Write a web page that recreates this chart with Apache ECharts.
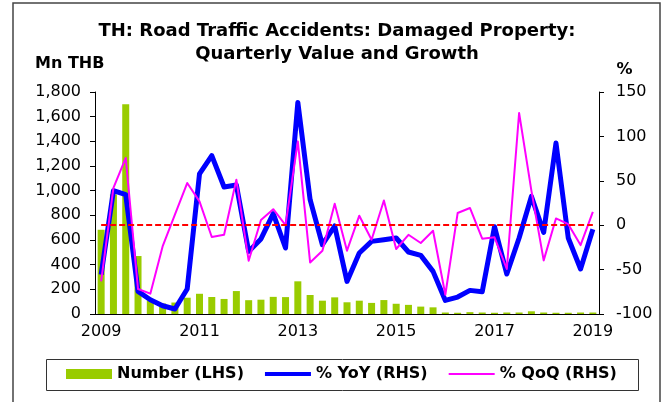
<!DOCTYPE html>
<html><head><meta charset="utf-8">
<script src="https://cdn.jsdelivr.net/npm/echarts@6/dist/echarts.min.js"></script>
<style>html,body{margin:0;padding:0;background:#fff}#c{width:671px;height:402px}</style>
</head><body><div id="c"></div>
<script>
// Quarterly categories 2009Q1 .. 2019Q1
const years = [2009,2010,2011,2012,2013,2014,2015,2016,2017,2018,2019];
const quarterNames = ['Q1','Q2','Q3','Q4'];
const categories = [];
years.forEach(y => quarterNames.forEach(q => { if (!(y === 2019 && q !== 'Q1')) categories.push(y + ' ' + q); }));

// Number (LHS), Mn THB
const numberLHS = [683, 970, 1700, 470, 110, 85, 93, 132, 164, 138, 122, 186, 112, 116, 139, 137,
  265, 154, 108, 135, 95, 108, 90, 113, 83, 74, 60, 54, 12, 10, 15, 12,
  10, 12, 12, 22, 12, 10, 10, 12, 12];
// % YoY (RHS)
const yoyRHS = [-55.7, 38.9, 34.3, -74.5, -83.9, -90.7, -94.4, -71.9, 57.7, 78.3, 43, 45.3, -29.5, -15.5, 13, -25.7,
  138.3, 28.7, -22, -0.9, -63.3, -31.3, -18.2, -16.3, -14.4, -30.2, -34, -52, -84.7, -80.9, -73.4, -74.9,
  -1.7, -55, -14.4, 32.4, -8.1, 92.6, -14.4, -49.3, -4.5];
// % QoQ (RHS)
const qoqRHS = [-63.3, 41.9, 75.7, -71.9, -77.1, -23.9, 11.8, 47.5, 26.8, -13.3, -10.8, 51.2, -40, 5.9, 18, 0,
  94.4, -41.9, -28.7, 24.2, -28.7, 10.7, -16.3, 27.9, -26.8, -10.8, -20, -6.2, -78.3, 13.7, 19.4, -15.2,
  -13.7, -49.3, 126.4, 38.9, -39.6, 7.6, 1.2, -22.4, 15];
const xTickLabels = ['2009','2011','2013','2015','2017','2019'];
const seriesNames = ['Number (LHS)', '% YoY (RHS)', '% QoQ (RHS)'];
const zeroRef = 0;

const FONT = '"DejaVu Sans", sans-serif';
// legend line icons: thin bands inside a 46x10 box
const thickLineIcon = 'path://M0 0H1V0.01H0Z M0 3H46V7H0Z M0 9.99H1V10H0Z';
const thinLineIcon = 'path://M0 0H1V0.01H0Z M0 4H46V6H0Z M0 9.99H1V10H0Z';

const chart = echarts.init(document.getElementById('c'), null, {renderer: 'canvas'});
chart.setOption({
  animation: false,
  backgroundColor: '#ffffff',
  grid: {left: 95, right: 72, top: 92, bottom: 88, containLabel: false},
  graphic: [
    {type: 'rect', shape: {x: 13, y: 3, width: 647, height: 420}, style: {fill: 'none', stroke: '#444', lineWidth: 1.5}, silent: true, z: 0},
    {type: 'rect', shape: {x: 46.5, y: 359.5, width: 592, height: 31}, style: {fill: 'none', stroke: '#333', lineWidth: 1}, silent: true, z: 0},
    {type: 'text', style: {text: 'TH: Road Traffic Accidents: Damaged Property:', x: 337, y: 31.3, align: 'center', verticalAlign: 'middle', font: 'bold 18px ' + FONT, fill: '#000'}},
    {type: 'text', style: {text: 'Quarterly Value and Growth', x: 337, y: 54.5, align: 'center', verticalAlign: 'middle', font: 'bold 18px ' + FONT, fill: '#000'}},
    {type: 'text', style: {text: 'Mn THB', x: 35, y: 63.5, align: 'left', verticalAlign: 'middle', font: 'bold 16px ' + FONT, fill: '#000'}},
    {type: 'text', style: {text: '%', x: 616.5, y: 70, align: 'left', verticalAlign: 'middle', font: 'bold 16px ' + FONT, fill: '#000'}}
  ],
  legend: {
    data: [
      {name: seriesNames[0], icon: 'rect'},
      {name: seriesNames[1], icon: thickLineIcon},
      {name: seriesNames[2], icon: thinLineIcon}
    ],
    left: 66, top: 366, padding: 0,
    itemWidth: 46, itemHeight: 10, itemGap: 21,
    textStyle: {fontFamily: FONT, fontWeight: 'bold', fontSize: 16, color: '#000'}
  },
  xAxis: {
    type: 'category', data: categories, boundaryGap: true,
    axisLine: {lineStyle: {color: '#000', width: 1}},
    axisTick: {interval: 3, length: 5, lineStyle: {color: '#000'}},
    axisLabel: {interval: 7, margin: 10, fontFamily: FONT, fontSize: 16, color: '#000',
      formatter: (v, i) => xTickLabels[Math.round(i / 8)] },
    splitLine: {show: false}
  },
  yAxis: [
    {type: 'value', min: 0, max: 1800, interval: 200, position: 'left',
      axisLine: {show: true, lineStyle: {color: '#000'}},
      axisTick: {show: true, length: 5, lineStyle: {color: '#000'}},
      axisLabel: {margin: 14, fontFamily: FONT, fontSize: 16, color: '#000', formatter: v => v.toLocaleString('en-US')},
      splitLine: {show: false}},
    {type: 'value', min: -100, max: 150, interval: 50, position: 'right',
      axisLine: {show: true, lineStyle: {color: '#000'}},
      axisTick: {show: true, length: 5, lineStyle: {color: '#000'}},
      axisLabel: {margin: 17, fontFamily: FONT, fontSize: 16, color: '#000'},
      splitLine: {show: false}}
  ],
  series: [
    {name: seriesNames[0], type: 'bar', data: numberLHS, yAxisIndex: 0, barWidth: 7,
      itemStyle: {color: '#99CC00'}, z: 1},
    {name: seriesNames[1], type: 'line', data: yoyRHS, yAxisIndex: 1, symbol: 'none',
      lineStyle: {color: '#0000FF', width: 5, join: 'round'}, itemStyle: {color: '#0000FF'}, z: 3},
    {name: seriesNames[2], type: 'line', data: qoqRHS, yAxisIndex: 1, symbol: 'none',
      lineStyle: {color: '#FF00FF', width: 2, join: 'round'}, itemStyle: {color: '#FF00FF'}, z: 4,
      markLine: {silent: true, symbol: 'none', label: {show: false},
        lineStyle: {color: '#FF0000', width: 2, type: [6, 3]},
        data: [[{xAxis: categories[0], yAxis: zeroRef}, {xAxis: categories[categories.length - 1], yAxis: zeroRef}]]}}
  ]
});
</script></body></html>
